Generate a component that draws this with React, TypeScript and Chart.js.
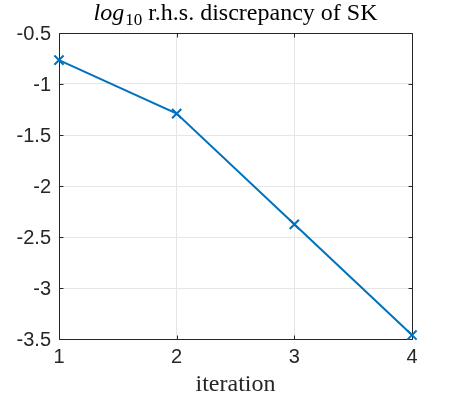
import React, { useEffect, useRef } from "react";
import { Chart, registerables } from "chart.js";

Chart.register(...registerables);

const iterations = [1, 2, 3, 4];
const discrepancy = [-0.766, -1.29, -2.376, -3.461];
const yTicks = [-3.5, -3, -2.5, -2, -1.5, -1, -0.5];
const xTicks = [1, 2, 3, 4];
const titleItalic = "log";
const titleSub = "10";
const titleRest = " r.h.s. discrepancy of SK";
const xLabel = "iteration";

const AXIS_COLOR = "#262626";
const LINE_COLOR = "#0072BD";
const SERIF = "'Liberation Serif', serif";
const SANS = "'Liberation Sans', Arial, sans-serif";

const matlabDecor = {
  id: "matlabDecor",
  beforeDatasetsDraw(chart: any) {
    const { ctx, chartArea } = chart;
    const { left, right, top, bottom } = chartArea;
    const xs = chart.scales.x;
    const ys = chart.scales.y;
    ctx.save();
    ctx.strokeStyle = AXIS_COLOR;
    ctx.lineWidth = 1;
    ctx.beginPath();
    const L = Math.round(left) + 0.5;
    const R = Math.round(right) + 0.5;
    const T = Math.round(top) + 0.5;
    const B = Math.round(bottom) + 0.5;
    ctx.rect(L, T, R - L, B - T);
    const tl = 4;
    yTicks.forEach((v) => {
      const y = Math.round(ys.getPixelForValue(v)) + 0.5;
      ctx.moveTo(L, y);
      ctx.lineTo(L + tl, y);
      ctx.moveTo(R, y);
      ctx.lineTo(R - tl, y);
    });
    xTicks.forEach((v) => {
      const x = Math.round(xs.getPixelForValue(v)) + 0.5;
      ctx.moveTo(x, B);
      ctx.lineTo(x, B - tl);
      ctx.moveTo(x, T);
      ctx.lineTo(x, T + tl);
    });
    ctx.stroke();
    ctx.restore();
  },
  afterDraw(chart: any) {
    const { ctx, chartArea } = chart;
    const cx = (chartArea.left + chartArea.right) / 2;
    ctx.save();
    ctx.fillStyle = "#000000";
    ctx.textBaseline = "alphabetic";
    ctx.textAlign = "left";
    const fMain = `24px ${SERIF}`;
    const fItal = `italic 24px ${SERIF}`;
    const fSub = `17px ${SERIF}`;
    ctx.font = fItal;
    const w1 = ctx.measureText(titleItalic).width + 1;
    ctx.font = fSub;
    const w2 = ctx.measureText(titleSub).width;
    ctx.font = fMain;
    const w3 = ctx.measureText(titleRest).width;
    const total = w1 + w2 + w3;
    let x = cx - total / 2;
    const by = 20;
    ctx.font = fItal;
    ctx.fillText(titleItalic, x, by);
    x += w1;
    ctx.font = fSub;
    ctx.fillText(titleSub, x, by + 5);
    x += w2;
    ctx.font = fMain;
    ctx.fillText(titleRest, x, by);

    ctx.textAlign = "center";
    ctx.fillStyle = "#262626";
    ctx.font = fMain;
    ctx.fillText(xLabel, cx, 391);
    ctx.restore();
  },
};

export default function App() {
  const ref = useRef<HTMLCanvasElement | null>(null);
  useEffect(() => {
    if (!ref.current) return;
    const data = iterations.map((it, i) => ({ x: it, y: discrepancy[i] }));
    const chart = new Chart(ref.current, {
      type: "line",
      data: {
        datasets: [
          {
            data,
            borderColor: LINE_COLOR,
            backgroundColor: LINE_COLOR,
            borderWidth: 2,
            pointStyle: "crossRot",
            pointRadius: 6.5,
            pointBorderWidth: 2,
            pointBorderColor: LINE_COLOR,
            tension: 0,
            fill: false,
            clip: false as any,
          },
        ],
      },
      options: {
        animation: false,
        responsive: false,
        devicePixelRatio: 1,
        layout: { padding: { top: 33, right: 43, left: 0, bottom: 0 } },
        plugins: {
          legend: { display: false },
          title: { display: false },
          tooltip: { enabled: false },
        },
        scales: {
          x: {
            type: "linear",
            min: 1,
            max: 4,
            afterBuildTicks: (s: any) => {
              s.ticks = xTicks.map((v) => ({ value: v }));
            },
            afterFit: (s: any) => {
              s.height = 60;
            },
            ticks: {
              color: AXIS_COLOR,
              font: { family: SANS, size: 20 },
              padding: 6,
              maxRotation: 0,
              autoSkip: false,
              callback: (v: any) => String(v),
            },
            grid: { color: "#e6e6e6", drawTicks: false, lineWidth: 1 },
            border: { display: false },
          },
          y: {
            type: "linear",
            min: -3.5,
            max: -0.5,
            afterBuildTicks: (s: any) => {
              s.ticks = yTicks.map((v) => ({ value: v }));
            },
            afterFit: (s: any) => {
              s.width = 59;
            },
            ticks: {
              color: AXIS_COLOR,
              font: { family: SANS, size: 20 },
              padding: 8,
              labelOffset: 1,
              autoSkip: false,
              callback: (v: any) => String(v),
            },
            grid: { color: "#e6e6e6", drawTicks: false, lineWidth: 1 },
            border: { display: false },
          },
        },
      },
      plugins: [matlabDecor],
    });
    return () => chart.destroy();
  }, []);
  return (
    <div style={{ position: "absolute", left: 0, top: 0, width: 455, height: 399, background: "#ffffff" }}>
      <canvas ref={ref} width={455} height={399} />
    </div>
  );
}
